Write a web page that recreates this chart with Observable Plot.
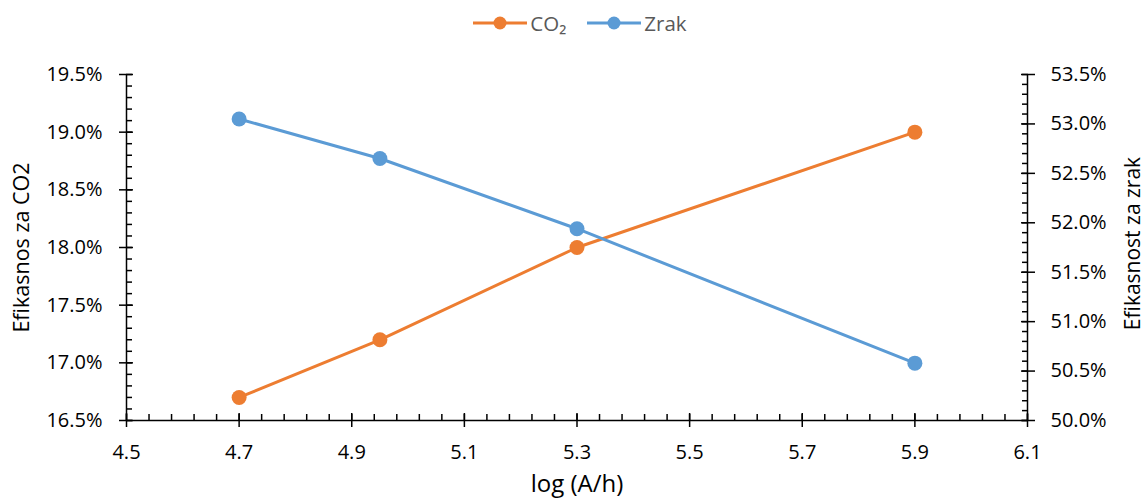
<!DOCTYPE html>
<html><head><meta charset="utf-8">
<script src="https://cdn.jsdelivr.net/npm/d3@7"></script>
<script src="https://cdn.jsdelivr.net/npm/@observablehq/plot@0.6"></script>
<style>
body{margin:0;background:#fff;font-family:"Open Sans",sans-serif;}
#legend{height:45px;display:flex;justify-content:center;align-items:center;padding-left:12px;box-sizing:border-box;}
.item{display:flex;align-items:center;margin:0 10px;color:#595959;font-size:20.5px;}
.item svg{margin-right:2px;}
</style></head><body>
<div id="legend"></div><div id="chart"></div>
<script>
const xValues = [4.7, 4.95, 5.3, 5.9];
const co2Values = [16.7, 17.2, 18.0, 19.0];
const zrakValues = [53.05, 52.65, 51.94, 50.58];
const seriesNames = ["CO₂", "Zrak"];
const seriesColors = ["#ED7D31", "#5B9BD5"];
const xTicks = [4.5, 4.7, 4.9, 5.1, 5.3, 5.5, 5.7, 5.9, 6.1];
const leftTicks = [16.5, 17.0, 17.5, 18.0, 18.5, 19.0, 19.5];
const rightTicks = [50.0, 50.5, 51.0, 51.5, 52.0, 52.5, 53.0, 53.5];
const xLabel = "log (A/h)";
const leftLabel = "Efikasnos za CO2";
const rightLabel = "Efikasnost za zrak";

const L0 = leftTicks[0], L1 = leftTicks[leftTicks.length-1];
const R0 = rightTicks[0], R1 = rightTicks[rightTicks.length-1];
const toLeft = v => L0 + (v - R0) * (L1 - L0) / (R1 - R0);
const toRight = v => R0 + (v - L0) * (R1 - R0) / (L1 - L0);

const xMinor = d3.range(0, 41).map(i => 4.5 + i * 0.04);
const leftMinor = d3.range(0, 31).map(i => 16.5 + i * 0.1);
const rightMinor = d3.range(0, 36).map(i => toLeft(50 + i * 0.1));

const co2 = xValues.map((x, i) => ({x, y: co2Values[i]}));
const zrak = xValues.map((x, i) => ({x, y: toLeft(zrakValues[i])}));

// legend
const leg = document.getElementById("legend");
seriesNames.forEach((n, i) => {
  const d = document.createElement("div");
  d.className = "item";
  d.innerHTML = `<svg width="56" height="16"><line x1="1" y1="8" x2="55" y2="8" stroke="${seriesColors[i]}" stroke-width="3"/><circle cx="28" cy="8" r="6.5" fill="${seriesColors[i]}"/></svg><span>${n}</span>`;
  leg.appendChild(d);
});

const fmtPct = d => d.toFixed(1) + "%";
const chart = Plot.plot({
  width: 1147, height: 458,
  marginTop: 29, marginBottom: 83, marginLeft: 126, marginRight: 120,
  style: {fontFamily: "Open Sans", fontSize: "20px", color: "#000", background: "#fff"},
  x: {domain: [4.5, 6.1], axis: null},
  y: {domain: [L0, L1], axis: null},
  marks: [
    Plot.ruleY([L0], {strokeWidth: 1.5}),
    Plot.ruleX([4.5, 6.1], {strokeWidth: 1.5}),
    Plot.axisX(xMinor, {anchor: "bottom", tickSize: 6, dy: -6, fill: "none", label: null, strokeWidth: 1.5}),
    Plot.axisX(xTicks, {anchor: "bottom", tickSize: 7, tickPadding: 17, tickFormat: d => d.toFixed(1), label: null, strokeWidth: 1.5, fontSize: 20}),
    Plot.axisX(xTicks, {anchor: "bottom", tickSize: 7, dy: -7, fill: "none", label: null, strokeWidth: 1.5}),
    Plot.axisY(leftMinor, {anchor: "left", tickSize: 6, dx: 6, fill: "none", label: null, strokeWidth: 1.5}),
    Plot.axisY(leftTicks, {anchor: "left", tickSize: 7, tickPadding: 17, tickFormat: fmtPct, label: null, strokeWidth: 1.5, fontSize: 20}),
    Plot.axisY(leftTicks, {anchor: "left", tickSize: 7, dx: 7, fill: "none", label: null, strokeWidth: 1.5}),
    Plot.axisY(rightMinor, {anchor: "right", tickSize: 6, dx: -6, fill: "none", label: null, strokeWidth: 1.5}),
    Plot.axisY(rightTicks.map(toLeft), {anchor: "right", tickSize: 7, tickPadding: 16, tickFormat: v => fmtPct(toRight(v)), label: null, strokeWidth: 1.5, fontSize: 20}),
    Plot.axisY(rightTicks.map(toLeft), {anchor: "right", tickSize: 7, dx: -7, fill: "none", label: null, strokeWidth: 1.5}),
    Plot.text([xLabel], {frameAnchor: "bottom", textAnchor: "middle", dy: 71, fontSize: 24, fill: "#000"}),
    Plot.text([leftLabel], {frameAnchor: "left", textAnchor: "middle", dx: -104, rotate: -90, fontSize: 21.5, fill: "#000"}),
    Plot.text([rightLabel], {frameAnchor: "right", textAnchor: "middle", dx: 106, dy: -4, rotate: -90, fontSize: 21, fill: "#000"}),
    Plot.line(co2, {x: "x", y: "y", stroke: seriesColors[0], strokeWidth: 3}),
    Plot.dot(co2, {x: "x", y: "y", r: 7.5, fill: seriesColors[0], stroke: "none"}),
    Plot.line(zrak, {x: "x", y: "y", stroke: seriesColors[1], strokeWidth: 3}),
    Plot.dot(zrak, {x: "x", y: "y", r: 7.5, fill: seriesColors[1], stroke: "none"})
  ]
});
document.getElementById("chart").appendChild(chart);
</script>
</body></html>
